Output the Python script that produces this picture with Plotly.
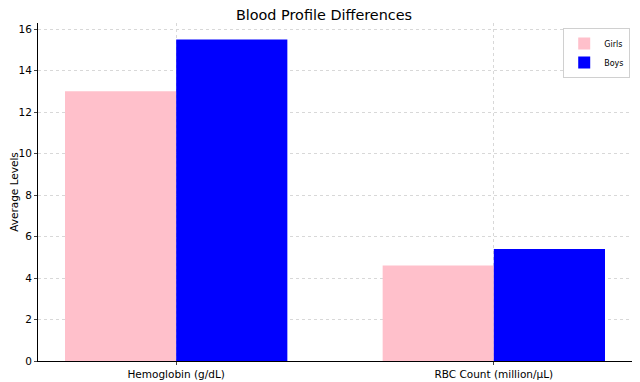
import plotly.graph_objects as go

categories = ["Hemoglobin (g/dL)", "RBC Count (million/μL)"]
girls = [13.0, 4.6]
boys = [15.5, 5.4]
xpos = [0, 1]

fig = go.Figure()
fig.add_trace(go.Bar(x=xpos, y=girls, name="Girls", marker=dict(color="#FFC0CB", line=dict(width=0))))
fig.add_trace(go.Bar(x=xpos, y=boys, name="Boys", marker=dict(color="#0000FF", line=dict(width=0))))

font = "DejaVu Sans"
# page body has an 8px margin, so the figure is sized/offset to compensate
fig.update_layout(
    width=632, height=374,
    barmode="group", bargap=0.3, bargroupgap=0,
    plot_bgcolor="white", paper_bgcolor="white",
    margin=dict(l=30, r=8, t=15, b=21, autoexpand=False),
    font=dict(family=font, size=10.5, color="black"),
    title=dict(text="Blood Profile Differences", x=0.5, xanchor="center", y=0.981, yanchor="middle",
               font=dict(size=14.4, family=font)),
    legend=dict(x=0.997, y=0.985, xanchor="right", yanchor="top", bgcolor="white",
                bordercolor="#d0d0d0", borderwidth=1, font=dict(size=8, family=font),
                itemwidth=30, tracegroupgap=0),
    showlegend=True,
)
fig.update_xaxes(range=[-0.435, 1.435], tickvals=xpos, ticktext=categories, automargin=False,
                 showgrid=True, gridcolor="#d8d8d8", griddash="dot", gridwidth=0.8,
                 showline=True, linecolor="black", linewidth=1, ticks="outside", ticklen=3,
                 zeroline=False, tickfont=dict(size=10.5))
fig.update_yaxes(range=[0, 16.29], tickvals=[0, 2, 4, 6, 8, 10, 12, 14, 16], automargin=False,
                 showgrid=True, gridcolor="#d8d8d8", griddash="dot", gridwidth=0.8,
                 showline=True, linecolor="black", linewidth=1, ticks="outside", ticklen=3,
                 zeroline=False, title=dict(text="Average Levels", font=dict(size=10.5), standoff=6),
                 tickfont=dict(size=10.5))
fig.write_html("out.html")
